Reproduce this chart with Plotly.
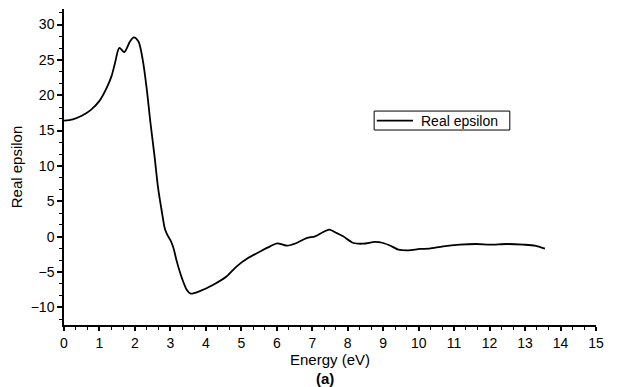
import plotly.graph_objects as go

energy = [0.0, 0.25, 0.5, 0.75, 1.0, 1.2, 1.34, 1.44, 1.56, 1.70, 1.86, 1.97, 2.10, 2.22, 2.33, 2.44, 2.55,
          2.65, 2.75, 2.85, 2.93, 3.0, 3.08, 3.18, 3.32, 3.46, 3.57, 3.83,
          4.21, 4.59, 4.87, 5.20, 5.53, 5.81, 6.01, 6.28, 6.56, 6.84, 7.08, 7.31, 7.48, 7.69, 7.87,
          8.16, 8.44, 8.77, 9.0, 9.24, 9.43, 9.71, 10.04, 10.3, 10.69, 11.16, 11.63, 12.01, 12.48,
          12.95, 13.28, 13.56]
real_eps = [16.4, 16.6, 17.1, 17.9, 19.2, 21.0, 22.7, 24.6, 26.7, 26.1, 27.6, 28.2, 27.6, 25.0, 21.0, 16.0, 11.5,
            7.0, 3.8, 1.0, 0.1, -0.5, -1.5, -3.5, -5.8, -7.5, -8.06, -7.7,
            -6.8, -5.6, -4.2, -3.0, -2.1, -1.37, -0.95, -1.27, -0.9, -0.2, 0.05, 0.66, 1.0, 0.5, 0.05,
            -0.9, -1.0, -0.75, -0.9, -1.37, -1.84, -1.94, -1.74, -1.7, -1.37, -1.13, -1.04, -1.13, -1.04,
            -1.13, -1.27, -1.7]
legend_label = "Real epsilon"

font = "Liberation Sans, Arial, sans-serif"

fig = go.Figure()
fig.add_trace(go.Scatter(x=energy, y=real_eps, mode="lines", name=legend_label,
                         line=dict(color="black", width=1.8, shape="spline", smoothing=0.8)))

fig.update_layout(
    width=618, height=387,
    margin=dict(l=64, r=22, t=9, b=62),
    paper_bgcolor="white", plot_bgcolor="white",
    font=dict(family=font, size=14, color="black"),
    showlegend=False,
    xaxis=dict(range=[0, 15], dtick=1, tick0=0, showline=True, linecolor="black", linewidth=1.5,
               ticks="outside", ticklen=4, tickwidth=1.5, tickcolor="black", showgrid=False, zeroline=False,
               minor=dict(dtick=1/3, tick0=0, ticks="outside", ticklen=3, tickcolor="black", tickwidth=1),
               title=dict(text="Energy (eV)", font=dict(size=15), standoff=0),
               tickfont=dict(size=14)),
    yaxis=dict(range=[-12.5, 32.2], dtick=5, tick0=0, showline=True, linecolor="black", linewidth=1.5,
               ticks="outside", ticklen=5, tickwidth=1.5, tickcolor="black", showgrid=False, zeroline=False,
               minor=dict(dtick=5/3, tick0=0, ticks="outside", ticklen=3, tickcolor="black", tickwidth=1),
               title=dict(text="Real epsilon", font=dict(size=15), standoff=4),
               tickfont=dict(size=14)),
    shapes=[
        dict(type="rect", xref="paper", yref="paper", x0=0.583, x1=0.838, y0=0.617, y1=0.677,
             line=dict(color="black", width=1), fillcolor="white", layer="above"),
        dict(type="line", xref="paper", yref="paper", x0=0.588, x1=0.656, y0=0.647, y1=0.647,
             line=dict(color="black", width=1.8), layer="above"),
    ],
    annotations=[
        dict(text=legend_label, xref="paper", yref="paper", x=0.667, y=0.647,
             xanchor="left", yanchor="middle", showarrow=False, font=dict(size=14)),
        dict(text="<b>(a)</b>", xref="paper", yref="paper", x=0.49, y=0, yshift=-43,
             xanchor="center", yanchor="top", showarrow=False, font=dict(size=15)),
    ]
)

fig.write_html("out.html")
